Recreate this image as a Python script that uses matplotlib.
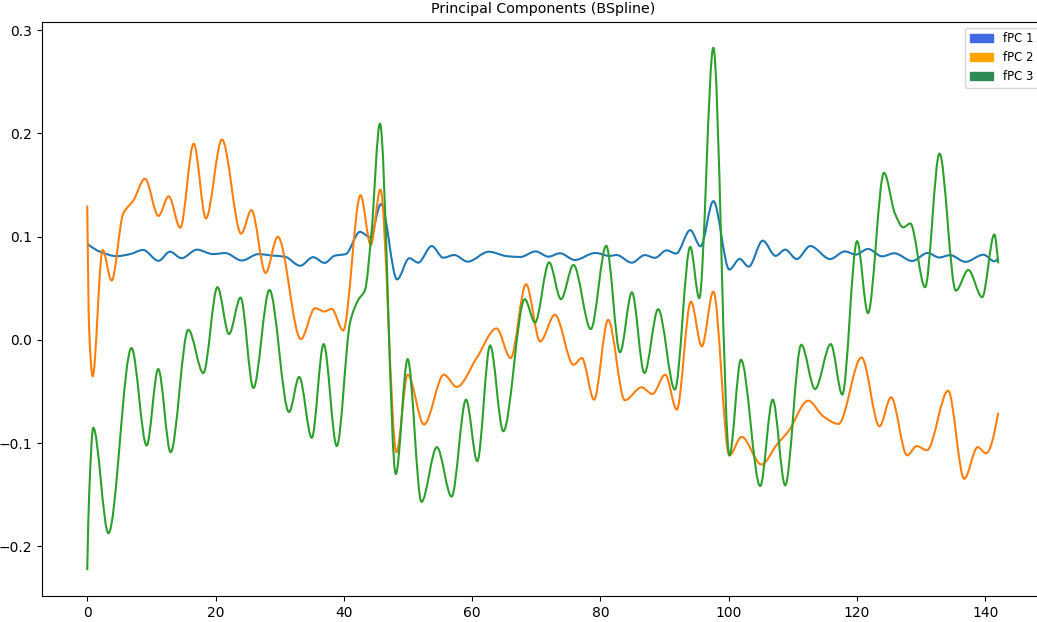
import numpy as np
import matplotlib
matplotlib.use("Agg")
import matplotlib.pyplot as plt
from matplotlib.path import Path
from matplotlib.patches import PathPatch, Patch

# ---- data (key points: extrema and shoulders) ----
x_pc1 = [0, 2.0, 4.6, 6.7, 8.7, 11.1, 12.9, 14.7, 17.1, 19.6, 21.5, 24.1, 26.7, 28.6,
         30.8, 33.2, 35.2, 37.0, 38.6, 40.3, 42.5, 44.1, 45.8, 48.3, 50.2, 51.6, 53.7,
         55.5, 57.2, 59.3, 62.6, 65.4, 67.5, 69.9, 71.9, 73.7, 76.0, 79.2, 81.4, 82.5,
         84.9, 86.9, 88.5, 90.3, 91.8, 94.0, 95.6, 97.6, 100.1, 101.7, 103.1, 105.3,
         107.3, 108.8, 110.6, 112.7, 115.8, 118.1, 119.8, 121.7, 123.9, 125.8, 128.6,
         131.0, 132.8, 134.5, 136.9, 139.7, 141.4, 142.0]
y_pc1 = [0.093, 0.0853, 0.081, 0.083, 0.087, 0.0765, 0.0853, 0.079, 0.0873, 0.083,
         0.084, 0.0768, 0.083, 0.0817, 0.0805, 0.0717, 0.080, 0.0745, 0.0815, 0.083,
         0.1045, 0.0995, 0.1315, 0.0585, 0.079, 0.0747, 0.0908, 0.0795, 0.0821, 0.0757,
         0.0853, 0.081, 0.0802, 0.0856, 0.0805, 0.0838, 0.0773, 0.0841, 0.0812, 0.0821,
         0.0747, 0.082, 0.0794, 0.0866, 0.0835, 0.1062, 0.0905, 0.1343, 0.068, 0.0783,
         0.0708, 0.096, 0.0813, 0.0873, 0.0782, 0.0908, 0.0782, 0.0856, 0.0825, 0.088,
         0.0808, 0.0838, 0.0763, 0.0841, 0.0797, 0.082, 0.0755, 0.0824, 0.076, 0.079]

x_pc2 = [0, 0.3, 0.84, 2.4, 3.8, 5.6, 7.2, 9.0, 11.1, 12.7, 14.5, 16.6, 18.5, 21.0,
         24.0, 25.6, 27.8, 29.7, 33.3, 35.5, 37.0, 38.1, 39.9, 42.6, 44.2, 45.7, 48.2,
         49.95, 52.5, 55.6, 57.6, 60.7, 63.8, 66.0, 68.4, 70.6, 72.9, 75.8, 77.1, 79.0,
         81.2, 83.8, 86.4, 88.1, 90.1, 91.9, 94.1, 95.8, 97.6, 100.1, 102.0, 105.1,
         107.5, 109.3, 112.4, 114.7, 117.1, 120.7, 123.5, 125.3, 127.8, 129.3, 130.9,
         134.2, 136.7, 138.8, 140.1, 142.0]
y_pc2 = [0.130, 0.01, -0.0354, 0.087, 0.0573, 0.122, 0.135, 0.156, 0.120, 0.139,
         0.1085, 0.190, 0.1176, 0.194, 0.1028, 0.1256, 0.0647, 0.0998, 0.0006, 0.0306,
         0.0274, 0.030, 0.009, 0.140, 0.0918, 0.1456, -0.109, -0.0338, -0.0821, -0.0338,
         -0.0457, -0.0177, 0.011, -0.0177, 0.0538, -0.0016, 0.0242, -0.0242, -0.0177,
         -0.058, 0.0193, -0.0586, -0.0461, -0.0525, -0.0338, -0.0676, 0.037, -0.0064,
         0.0467, -0.112, -0.094, -0.1208, -0.1015, -0.0886, -0.059, -0.074, -0.0815,
         -0.0171, -0.0838, -0.0557, -0.112, -0.103, -0.107, -0.0493, -0.1346, -0.104,
         -0.110, -0.0708]

x_pc3 = [0, 0.3, 0.94, 3.3, 6.9, 9.26, 11.07, 13.0, 15.75, 18.1, 20.3, 22.1, 23.9,
         25.9, 28.4, 31.45, 33.05, 35.0, 36.85, 38.9, 41.0, 42.25, 43.3, 44.3, 45.63,
         48.1, 49.95, 52.1, 54.5, 56.8, 59.05, 60.8, 62.8, 64.85, 68.2, 69.8, 72.0,
         73.85, 75.8, 78.5, 80.9, 83.05, 84.9, 86.85, 89.0, 91.6, 94.0, 95.4, 97.6,
         100.1, 101.9, 104.9, 106.85, 108.8, 111.3, 113.45, 115.9, 117.7, 120.0, 121.7,
         124.2, 125.9, 127.2, 128.3, 130.6, 132.85, 135.4, 137.35, 139.5, 141.4, 142.0]
y_pc3 = [-0.2232, -0.15, -0.0853, -0.1874, -0.008, -0.1024, -0.0283, -0.1089, 0.0097,
         -0.0322, 0.051, 0.0055, 0.0409, -0.0467, 0.0483, -0.070, -0.036, -0.095,
         -0.0042, -0.103, 0.0177, 0.0386, 0.0483, 0.103, 0.2094, -0.130, -0.0187,
         -0.157, -0.104, -0.152, -0.058, -0.1176, -0.0055, -0.0886, 0.0393, 0.0167,
         0.075, 0.0393, 0.0725, 0.0103, 0.0911, -0.0122, 0.046, -0.0322, 0.0296,
         -0.0483, 0.090, 0.0403, 0.2828, -0.112, -0.0193, -0.1417, -0.058, -0.141,
         -0.0048, -0.0477, -0.0042, -0.0531, 0.0956, 0.0258, 0.1617, 0.1224, 0.1089,
         0.1127, 0.0509, 0.1804, 0.0476, 0.0676, 0.0412, 0.102, 0.074]

labels = ["fPC 1", "fPC 2", "fPC 3"]
legend_colors = ["royalblue", "orange", "seagreen"]
line_colors = ["C0", "C1", "C2"]
title = "Principal Components (BSpline)"


def pchip_slopes(x, y):
    x = np.asarray(x, float)
    y = np.asarray(y, float)
    h = np.diff(x)
    d = np.diff(y) / h
    n = len(x)
    m = np.zeros(n)
    for k in range(1, n - 1):
        if d[k - 1] * d[k] > 0:
            w1 = 2 * h[k] + h[k - 1]
            w2 = h[k] + 2 * h[k - 1]
            m[k] = (w1 + w2) / (w1 / d[k - 1] + w2 / d[k])

    def end(h0, h1, d0, d1):
        s = ((2 * h0 + h1) * d0 - h0 * d1) / (h0 + h1)
        if np.sign(s) != np.sign(d0):
            s = 0.0
        elif np.sign(d0) != np.sign(d1) and abs(s) > abs(3 * d0):
            s = 3 * d0
        return s

    m[0] = end(h[0], h[1], d[0], d[1])
    m[-1] = end(h[-1], h[-2], d[-1], d[-2])
    return m


def smooth_path(x, y):
    m = pchip_slopes(x, y)
    verts = [(x[0], y[0])]
    codes = [Path.MOVETO]
    for i in range(len(x) - 1):
        h = x[i + 1] - x[i]
        verts += [(x[i] + h / 3, y[i] + m[i] * h / 3),
                  (x[i + 1] - h / 3, y[i + 1] - m[i + 1] * h / 3),
                  (x[i + 1], y[i + 1])]
        codes += [Path.CURVE4] * 3
    return Path(verts, codes)


fig = plt.figure(figsize=(10.37, 6.22), dpi=100)
ax = fig.add_axes([0.0402, 0.0413, 0.9663, 0.9238])

for xs, ys, c in zip([x_pc1, x_pc2, x_pc3], [y_pc1, y_pc2, y_pc3], line_colors):
    ax.add_patch(PathPatch(smooth_path(xs, ys), facecolor="none", edgecolor=c,
                           lw=1.5, capstyle="butt", joinstyle="round"))

ax.autoscale_view()
ax.set_title(title, fontsize=10.3)
handles = [Patch(color=c, label=l) for c, l in zip(legend_colors, labels)]
ax.legend(handles=handles, loc="upper right", fontsize=8.4)

fig.savefig("out.png", dpi=100)
